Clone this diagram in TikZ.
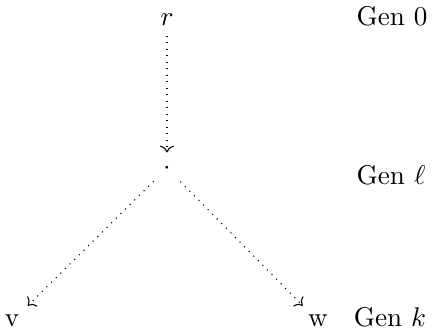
\documentclass[tikz,border=0pt]{standalone}
\usetikzlibrary{arrows.meta}
\begin{document}
\begin{tikzpicture}[x=0.369pt,y=-0.369pt,
  conn/.style={-{To[]},dotted}]
\useasboundingbox (0,0) rectangle (433,335);
\node[anchor=base] (r) at (167,26) {$r$};
\node (l) at (167,168) {$\cdot$};
\node[anchor=base] (v) at (12,327) {v};
\node[anchor=base] (w) at (318,327) {w};
\node[anchor=base] (g0) at (392,26) {Gen $0$};
\node[anchor=base] (gl) at (391,185) {Gen $\ell$};
\node[anchor=base] (gk) at (390,327) {Gen $k$};
\draw[conn] (r) -- (l);
\draw[conn] (l) -- (v);
\draw[conn] (l) -- (w);
\end{tikzpicture}
\end{document}
